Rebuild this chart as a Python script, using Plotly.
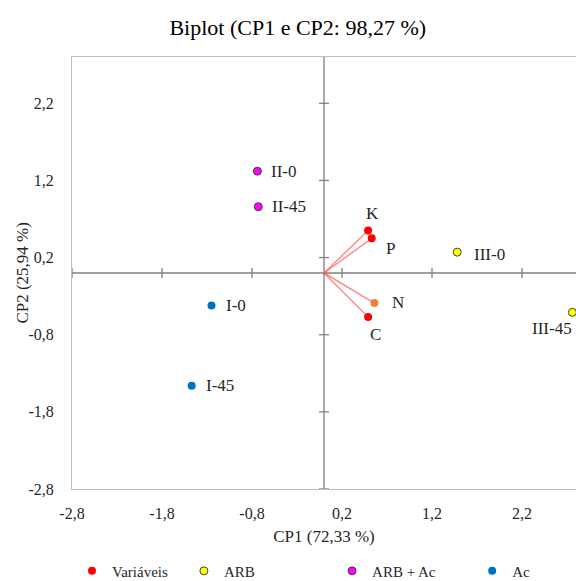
import plotly.graph_objects as go

# ---- data ----
var_names = ["K", "P", "N", "C"]
var_cp1 = [0.49, 0.53, 0.56, 0.49]
var_cp2 = [0.55, 0.45, -0.39, -0.57]
var_colors = ["#FF0000", "#FF0000", "#F0803C", "#FF0000"]

arb_names = ["III-0", "III-45"]
arb_cp1 = [1.48, 2.76]
arb_cp2 = [0.27, -0.51]

arbac_names = ["II-0", "II-45"]
arbac_cp1 = [-0.74, -0.73]
arbac_cp2 = [1.32, 0.86]

ac_names = ["I-0", "I-45"]
ac_cp1 = [-1.25, -1.47]
ac_cp2 = [-0.42, -1.46]

tick_vals = [-2.8, -1.8, -0.8, 0.2, 1.2, 2.2]
tick_text = ["-2,8", "-1,8", "-0,8", "0,2", "1,2", "2,2"]

FONT = "Liberation Serif, Times New Roman, serif"
TXT = "#262626"

fig = go.Figure()

# vectors from origin
vx, vy = [], []
for a, b in zip(var_cp1, var_cp2):
    vx += [0, a, None]
    vy += [0, b, None]
fig.add_trace(go.Scatter(x=vx, y=vy, mode="lines",
                         line=dict(color="rgba(255,80,80,0.65)", width=1.5),
                         showlegend=False, hoverinfo="skip"))

fig.add_trace(go.Scatter(x=var_cp1, y=var_cp2, mode="markers", name="Variáveis",
                         legend="legend", cliponaxis=False,
                         marker=dict(color=var_colors, size=8)))
fig.add_trace(go.Scatter(x=arb_cp1, y=arb_cp2, mode="markers", name="ARB",
                         legend="legend2", cliponaxis=False,
                         marker=dict(color="#FFFF00", size=8, line=dict(color="#404040", width=1))))
fig.add_trace(go.Scatter(x=arbac_cp1, y=arbac_cp2, mode="markers", name="ARB + Ac",
                         legend="legend3", cliponaxis=False,
                         marker=dict(color="#FF00FF", size=8, line=dict(color="#404040", width=1))))
fig.add_trace(go.Scatter(x=ac_cp1, y=ac_cp2, mode="markers", name="Ac",
                         legend="legend4", cliponaxis=False,
                         marker=dict(color="#0070C0", size=8)))

# point labels
label_style = {
    "K": dict(xanchor="center", yanchor="bottom", xshift=4, yshift=6),
    "P": dict(xanchor="left", yanchor="middle", xshift=12, yshift=-10),
    "N": dict(xanchor="left", yanchor="middle", xshift=16, yshift=1),
    "C": dict(xanchor="center", yanchor="top", xshift=7, yshift=-6),
    "III-0": dict(xanchor="left", yanchor="middle", xshift=15, yshift=-2),
    "III-45": dict(xanchor="right", yanchor="top", xshift=2, yshift=-5),
}
names_all = var_names + arb_names + arbac_names + ac_names
x_all = var_cp1 + arb_cp1 + arbac_cp1 + ac_cp1
y_all = var_cp2 + arb_cp2 + arbac_cp2 + ac_cp2
for n, x, y in zip(names_all, x_all, y_all):
    st = label_style.get(n, dict(xanchor="left", yanchor="middle", xshift=12, yshift=0))
    fig.add_annotation(x=x, y=y, text=n, showarrow=False,
                       font=dict(family=FONT, size=17, color=TXT), **st)

# y axis title as annotation (sits close to the tick labels, as in the original)
fig.add_annotation(xref="paper", yref="paper", x=-0.1, y=0.5, text="CP2 (25,94 %)",
                   textangle=-90, showarrow=False, xanchor="center", yanchor="middle",
                   font=dict(family=FONT, size=17, color=TXT))

# central axes with crossing tick marks
axis_col = "#7F7F7F"
fig.add_shape(type="line", xref="x", yref="paper", x0=0, x1=0, y0=0, y1=1,
              line=dict(color=axis_col, width=1.3), layer="below")
fig.add_shape(type="line", xref="paper", yref="y", x0=0, x1=1, y0=0, y1=0,
              line=dict(color=axis_col, width=1.3), layer="below")
for t in tick_vals:
    fig.add_shape(type="line", xref="x", yref="y", xsizemode="pixel", xanchor=0,
                  x0=-5, x1=5, y0=t, y1=t, line=dict(color=axis_col, width=1.3), layer="below")
    fig.add_shape(type="line", xref="x", yref="y", ysizemode="pixel", yanchor=0,
                  y0=-5, y1=5, x0=t, x1=t, line=dict(color=axis_col, width=1.3), layer="below")

leg_common = dict(orientation="h", yanchor="middle", xanchor="left",
                  bgcolor="rgba(0,0,0,0)", font=dict(family=FONT, size=15, color=TXT))
fig.update_layout(
    width=576, height=581,
    margin=dict(l=72, r=0, t=57, b=92, autoexpand=False),
    paper_bgcolor="white", plot_bgcolor="white",
    font=dict(family=FONT, size=16, color=TXT),
    title=dict(text="Biplot (CP1 e CP2: 98,27 %)", x=0.517, xanchor="center",
               y=0.953, yanchor="middle", font=dict(family=FONT, size=22, color="#000000")),
    xaxis=dict(range=[-2.8, 2.8], tickvals=tick_vals, ticktext=tick_text,
               showgrid=False, zeroline=False, showline=True, linecolor="#BFBFBF",
               linewidth=1, mirror=True, ticks="", ticklabelstandoff=10,
               title=dict(text="CP1 (72,33 %)", font=dict(family=FONT, size=17), standoff=8),
               tickfont=dict(family=FONT, size=16)),
    yaxis=dict(range=[-2.8, 2.8], tickvals=tick_vals, ticktext=tick_text,
               showgrid=False, zeroline=False, showline=True, linecolor="#BFBFBF",
               linewidth=1, mirror=True, ticks="", ticklabelstandoff=14,
               tickfont=dict(family=FONT, size=16)),
    legend=dict(x=-0.0, y=-0.19, **leg_common),
    legend2=dict(x=0.222, y=-0.19, **leg_common),
    legend3=dict(x=0.516, y=-0.19, **leg_common),
    legend4=dict(x=0.794, y=-0.19, **leg_common),
    showlegend=True,
)

fig.write_html("out.html", config={"displayModeBar": False},
               post_script="document.body.style.margin='0px';document.body.style.overflow='hidden';")
